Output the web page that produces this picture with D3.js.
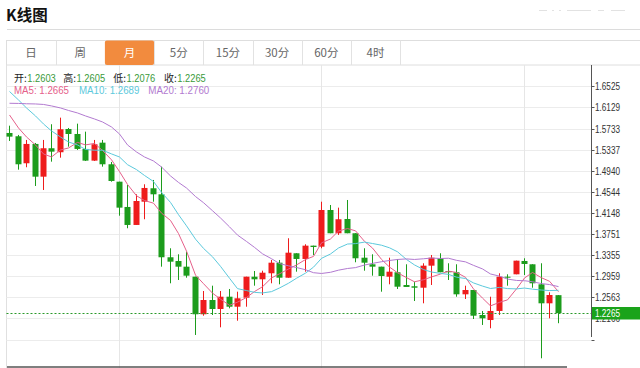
<!DOCTYPE html>
<html><head><meta charset="utf-8">
<script src="https://cdn.jsdelivr.net/npm/d3@7"></script>
<style>body{margin:0;background:#fff;overflow:hidden} svg{display:block}</style>
</head><body><svg id="c" width="640" height="368"></svg>
<script>
// ---- data (monthly candles) ----
const opens  = [1.5650,1.5588,1.5081,1.5444,1.4829,1.5363,1.5288,1.5725,1.5631,1.5350,1.5130,1.5468,1.5062,1.4735,1.4260,1.3922,1.4359,1.4611,1.4498,1.3315,1.3245,1.3138,1.2950,1.2244,1.2512,1.2343,1.2574,1.2386,1.2555,1.2950,1.2901,1.3014,1.3213,1.2931,1.3390,1.3283,1.3533,1.3514,1.4203,1.3766,1.4034,1.3766,1.3307,1.3183,1.3138,1.2950,1.3033,1.2794,1.2770,1.2743,1.3157,1.3296,1.3057,1.3033,1.2619,1.2700,1.2230,1.2136,1.2306,1.2950,1.2995,1.3245,1.3183,1.2807,1.2450,1.2603];
const highs  = [1.5787,1.5613,1.5519,1.5462,1.5519,1.5814,1.5938,1.5744,1.5825,1.5675,1.5519,1.5519,1.5105,1.4735,1.4673,1.4498,1.4686,1.4767,1.5017,1.3484,1.3371,1.3420,1.2950,1.2681,1.2781,1.2681,1.2719,1.2668,1.2950,1.3057,1.3063,1.3264,1.3264,1.3672,1.3390,1.3559,1.3533,1.4359,1.4297,1.4247,1.4391,1.3766,1.3484,1.3371,1.3138,1.3307,1.3277,1.3183,1.2856,1.3202,1.3358,1.3390,1.3202,1.3183,1.2781,1.2700,1.2306,1.2574,1.3014,1.2995,1.3251,1.3296,1.3183,1.3202,1.2657,1.2605];
const lows   = [1.5500,1.4961,1.5006,1.4654,1.4579,1.5111,1.5186,1.5393,1.5331,1.5124,1.5124,1.5017,1.4735,1.4096,1.3860,1.3922,1.4029,1.4359,1.3138,1.2826,1.2888,1.2931,1.1855,1.2217,1.2230,1.1999,1.2356,1.2123,1.2386,1.2781,1.2606,1.2826,1.2807,1.2931,1.3044,1.3044,1.3358,1.3484,1.3766,1.3734,1.3766,1.3221,1.3063,1.2969,1.2668,1.2807,1.2719,1.2757,1.2493,1.2450,1.2794,1.3033,1.2888,1.2574,1.2531,1.2155,1.2043,1.1981,1.2230,1.2781,1.2995,1.2982,1.2743,1.1417,1.2168,1.2076];
const closes = [1.5581,1.5062,1.5444,1.4829,1.5363,1.5299,1.5720,1.5631,1.5350,1.5130,1.5438,1.5062,1.4748,1.4247,1.3922,1.4372,1.4617,1.4498,1.3315,1.3232,1.3138,1.2969,1.2244,1.2512,1.2343,1.2574,1.2386,1.2544,1.2950,1.2901,1.3025,1.3213,1.2931,1.3401,1.3283,1.3533,1.3508,1.4203,1.3766,1.4029,1.3766,1.3296,1.3213,1.3138,1.2963,1.3044,1.2762,1.2757,1.2743,1.3157,1.3307,1.3033,1.3033,1.2619,1.2700,1.2217,1.2168,1.2306,1.2950,1.2931,1.3251,1.3189,1.2826,1.2450,1.2606,1.2265];
// moving-average values before enough months are visible
const ma5Lead  = [1.5988,1.5744,1.5575,1.5425];
const ma10Lead = [1.6430,1.6270,1.6120,1.5970,1.5819,1.5688,1.5575,1.5481,1.5425];
const ma20Lead = [1.6208,1.6205,1.6199,1.6195,1.6186,1.6158,1.6120,1.6073,1.6026,1.5970,1.5913,1.5857,1.5763,1.5631,1.5425,1.5293,1.5199,1.5124,1.5011];
const yTicks = [1.6525,1.6129,1.5733,1.5337,1.4940,1.4544,1.4148,1.3751,1.3355,1.2959,1.2563,1.2166,1.1770];
const yTickLabels = ["1.6525","1.6129","1.5733","1.5337","1.4940","1.4544","1.4148","1.3751","1.3355","1.2959","1.2563","1.2166",""];
const yearLineIdx = [13,37,61];
const tabs = ["日","周","月","5分","15分","30分","60分","4时"];
const activeTab = "月";
const ohlcLabels = ["开:","高:","低:","收:"];
const ohlcValues = ["1.2603","1.2605","1.2076","1.2265"];
const maLabels = ["MA5: 1.2665","MA10: 1.2689","MA20: 1.2760"];
const lastPriceLabel = "1.2265";

// ---- drawing ----
const svg = d3.select("#c");
const RED="#ee1c1c", GREEN="#1c9c1c";
const MA_COLORS=["#e5608a","#5cc9dc","#b27ad0"];
const n = closes.length;
const x = d3.scaleBand().domain(d3.range(n)).range([5.08, 5.08+n*8.437]).paddingInner(0.32).paddingOuter(0.16);
const y = d3.scaleLinear().domain([1.1770,1.6525]).range([339.5,86.4]);
const cx = i => Math.round(x(i)+x.bandwidth()/2)+0.5;
const SANS = "'Liberation Sans',Arial,sans-serif";
const CJK = "'Noto Sans CJK SC',sans-serif";

// title
svg.append("text").attr("x",6).attr("y",20.5).text("K线图")
  .attr("font-family",CJK).attr("font-weight","bold").attr("font-size",15.5).attr("fill","#111");
svg.append("line").attr("x1",7).attr("x2",640).attr("y1",29.5).attr("y2",29.5).attr("stroke","#dcdcdc");
// faint top-right marks
[[539,547],[552,554],[559,561],[567,591],[598,604],[611,625]].forEach(s=>
  svg.append("line").attr("x1",s[0]).attr("x2",s[1]).attr("y1",10.5).attr("y2",10.5).attr("stroke","#e2e2e2"));

// tabs
const tabW = 49.2, tabX0 = 6.5, tabY0 = 40.5, tabH = 24.5;
svg.append("rect").attr("x",tabX0).attr("y",tabY0).attr("width",640).attr("height",tabH).attr("fill","#fff").attr("stroke","#dedede");
tabs.forEach((t,i)=>{
  const tx = tabX0 + i*tabW;
  if (t===activeTab) {
    svg.append("rect").attr("x",tx).attr("y",tabY0).attr("width",tabW).attr("height",tabH).attr("rx",2).attr("fill","#f28b3e");
  }
  svg.append("line").attr("x1",Math.round(tx+tabW)+0.5).attr("x2",Math.round(tx+tabW)+0.5).attr("y1",tabY0).attr("y2",tabY0+tabH).attr("stroke","#e2e2e2");
  svg.append("text").attr("x",tx+tabW/2).attr("y",tabY0+tabH/2+4).attr("text-anchor","middle")
    .attr("font-family",CJK).attr("font-size",11.5)
    .attr("fill", t===activeTab ? "#fff" : "#666").text(t);
});

// plot frame & grid
const plotTop = 65, plotBottom = 368, plotLeft = 6.5, axisX = 591.5;
svg.append("line").attr("x1",plotLeft).attr("x2",plotLeft).attr("y1",plotTop).attr("y2",plotBottom).attr("stroke","#e0e0e0");
yTicks.forEach(v=>{
  const yy = Math.round(y(v))+0.5;
  svg.append("line").attr("x1",plotLeft).attr("x2",axisX).attr("y1",yy).attr("y2",yy).attr("stroke","#ececec");
});
yearLineIdx.forEach(i=>{
  svg.append("line").attr("x1",cx(i)).attr("x2",cx(i)).attr("y1",plotTop).attr("y2",plotBottom).attr("stroke","#e6e6e6");
});

// candles
const g = svg.append("g");
d3.range(n).forEach(i=>{
  const up = closes[i] >= opens[i];
  const col = up ? RED : GREEN;
  g.append("line").attr("x1",cx(i)).attr("x2",cx(i)).attr("y1",y(highs[i])).attr("y2",y(lows[i])).attr("stroke",col).attr("stroke-width",1);
  const top = y(Math.max(opens[i],closes[i])), bot = y(Math.min(opens[i],closes[i]));
  g.append("rect").attr("x",cx(i)-3).attr("width",6).attr("y",top).attr("height",Math.max(1,bot-top)).attr("fill",col);
});

// moving averages
function ma(period, lead){
  return d3.range(n).map(i => i < period-1 ? lead[i] : d3.mean(closes.slice(i-period+1,i+1)));
}
const maSeries = [ma(5,ma5Lead), ma(10,ma10Lead), ma(20,ma20Lead)];
const line = d3.line().x((d,i)=>cx(i)).y(d=>y(d));
svg.append("clipPath").attr("id","clip").append("rect").attr("x",plotLeft).attr("y",plotTop).attr("width",axisX-plotLeft).attr("height",plotBottom-plotTop);
maSeries.forEach((s,k)=>{
  svg.append("path").datum(s).attr("d",line).attr("fill","none").attr("stroke",MA_COLORS[k]).attr("stroke-width",1).attr("clip-path","url(#clip)");
});

// last price dotted line
const lastY = Math.round(y(closes[n-1]))+0.5;
svg.append("line").attr("x1",plotLeft).attr("x2",axisX).attr("y1",lastY).attr("y2",lastY).attr("stroke","#2a9a2a").attr("stroke-dasharray","2,2");

// y axis
svg.append("line").attr("x1",axisX).attr("x2",axisX).attr("y1",plotTop).attr("y2",337).attr("stroke","#555");
yTicks.forEach((v,i)=>{
  const yy = Math.round(y(v))+0.5;
  svg.append("line").attr("x1",axisX).attr("x2",axisX+3).attr("y1",yy).attr("y2",yy).attr("stroke","#555");
  if (yTickLabels[i]) svg.append("text").attr("x",595).attr("y",yy+3.5).text(yTickLabels[i])
    .attr("font-family",SANS).attr("font-size",10).attr("textLength",25).attr("lengthAdjust","spacingAndGlyphs").attr("fill","#333");
});
svg.append("rect").attr("x",axisX+0.5).attr("y",lastY-6.5).attr("width",50).attr("height",12.5).attr("fill","#1aa31a");
svg.append("text").attr("x",595).attr("y",lastY+3.5).text(lastPriceLabel).attr("font-family",SANS).attr("font-size",10)
  .attr("textLength",25).attr("lengthAdjust","spacingAndGlyphs").attr("fill","#fff");

// legend
const ohlcX = [14,63.3,113.3,164];
ohlcLabels.forEach((l,i)=>{
  svg.append("text").attr("x",ohlcX[i]).attr("y",81.5).attr("font-family",CJK).attr("font-size",10).attr("fill","#222").text(l);
  svg.append("text").attr("x",ohlcX[i]+13.3).attr("y",81.5).attr("font-family",SANS).attr("font-size",10)
    .attr("textLength",28.5).attr("lengthAdjust","spacingAndGlyphs").attr("fill","#3a9a3a").text(ohlcValues[i]);
});
const maX = [14,79,148.3];
const maW = [55,60.3,61];
maLabels.forEach((l,i)=>{
  svg.append("text").attr("x",maX[i]).attr("y",94).attr("font-family",SANS).attr("font-size",10)
    .attr("textLength",maW[i]).attr("lengthAdjust","spacingAndGlyphs").attr("fill",MA_COLORS[i]).text(l);
});

// bottom bar
svg.append("line").attr("x1",7).attr("x2",567).attr("y1",367).attr("y2",367).attr("stroke","#555").attr("stroke-width",1.5);
</script></body></html>
